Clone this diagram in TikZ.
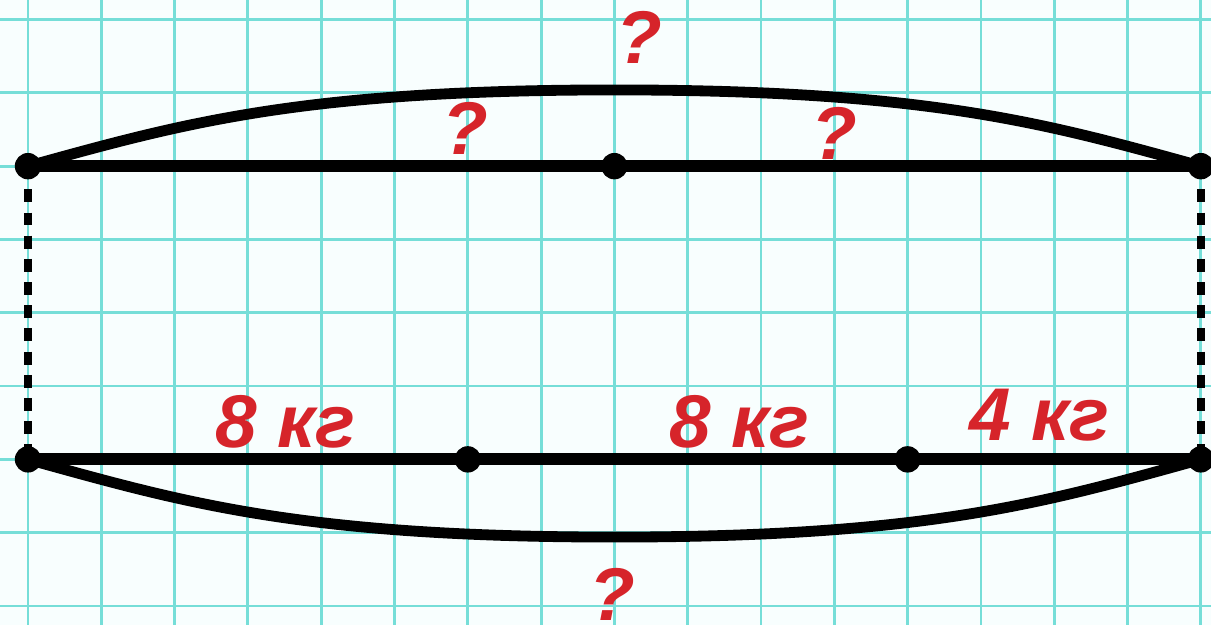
\documentclass[tikz,border=0pt]{standalone}
\usepackage{fontspec}
\setmainfont{Liberation Sans}
\usepackage{xcolor}
\usepackage{tikz}
\definecolor{gridColor}{RGB}{118, 222, 216}
\definecolor{paperColor}{RGB}{248, 254, 254}
\definecolor{labelColor}{RGB}{214, 36, 42}

\begin{document}
\begin{tikzpicture}[
    segline/.style={line width=4.6pt},
    bracecurve/.style={line width=4.2pt},
    joinline/.style={line width=3.2pt, dash pattern=on 5pt off 4pt},
    pt/.style={circle, fill=black, inner sep=0pt, minimum size=0.36cm},
    lbl/.style={labelColor, font=\fontsize{29}{29}\selectfont\bfseries\itshape}
  ]
  % Paper and grid
  \useasboundingbox (-0.382,-0.259) rectangle (16.139,8.267);
  \fill[paperColor] (-0.382,-0.259) rectangle (16.139,8.267);
  \draw[gridColor, line width=1.1pt] (-0.382,-0.259) grid (16.139,8.267);

  % Points of the two segments
  \coordinate (TL) at (0, 6);
  \coordinate (TM) at (8, 6);
  \coordinate (TR) at (16, 6);
  \coordinate (BL) at (0, 2);
  \coordinate (B1) at (6, 2);
  \coordinate (B2) at (12, 2);
  \coordinate (BR) at (16, 2);

  % Dotted joins
  \draw[joinline] (TL) -- (BL);
  \draw[joinline] (TR) -- (BR);

  % Segments
  \draw[segline] (TL) -- (TM) -- (TR);
  \draw[segline] (BL) -- (B1) -- (B2) -- (BR);

  % Braces over and under
  \draw[bracecurve] (TL) .. controls (2.1,6.58) and (3.7,7.04) .. (8,7.04)
                         .. controls (12.3,7.04) and (13.9,6.58) .. (TR);
  \draw[bracecurve] (BL) .. controls (2.1,1.42) and (3.7,0.94) .. (8,0.94)
                         .. controls (12.3,0.94) and (13.9,1.42) .. (BR);

  % Dots
  \foreach \p in {TL, TM, TR, BL, B1, B2, BR}
    \node[pt] (dot\p) at (\p) {};

  % Labels
  \node[lbl] (qTop) at (8.34, 7.75) {?};
  \node[lbl] (qLeft) at (5.96, 6.52) {?};
  \node[lbl] (qRight) at (11.0, 6.45) {?};
  \node[lbl] (qBottom) at (7.97, 0.16) {?};
  \node[lbl] (mA) at (3.51, 2.51) {8 кг};
  \node[lbl] (mB) at (9.71, 2.51) {8 кг};
  \node[lbl] (mC) at (13.8, 2.6) {4 кг};
\end{tikzpicture}
\end{document}
